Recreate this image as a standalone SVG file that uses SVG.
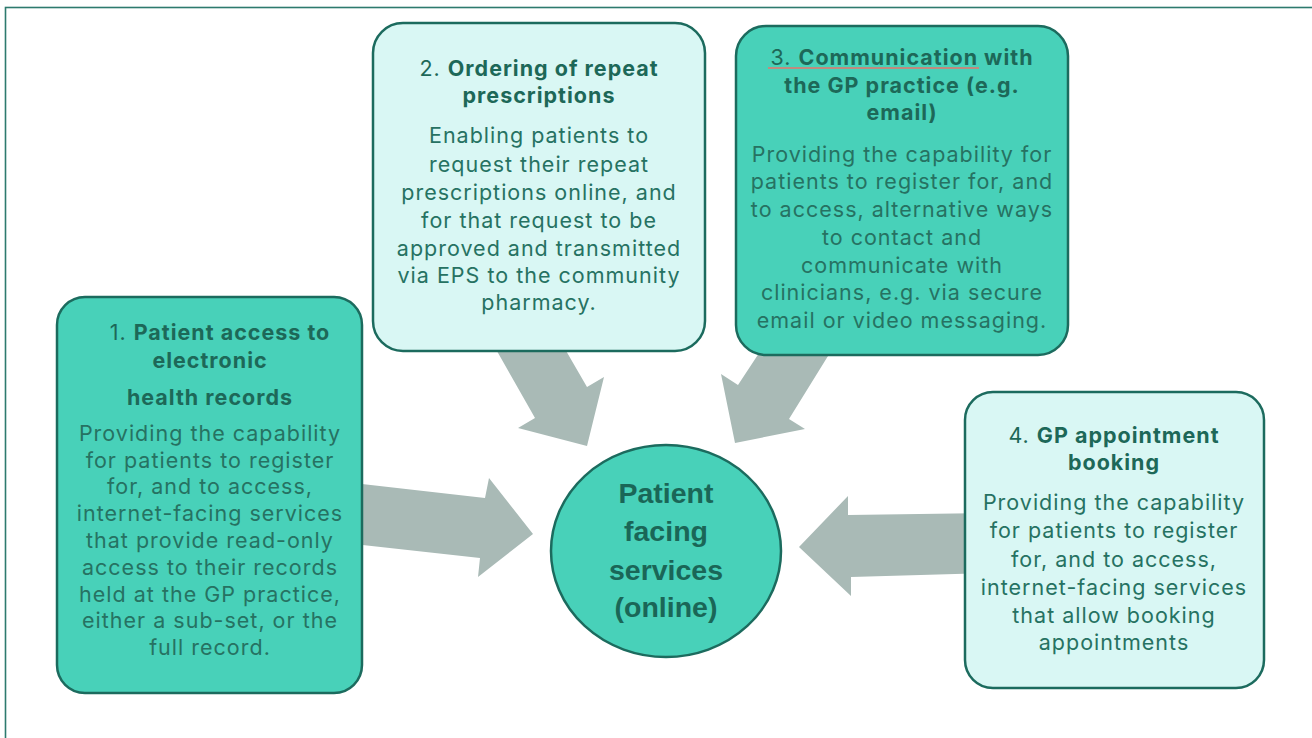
<svg xmlns="http://www.w3.org/2000/svg" width="1312" height="738" viewBox="0 0 1312 738">
<style>
.frame{fill:none;stroke:#2d7a6e;stroke-width:1.6}
.box{stroke:#1c6b5e;stroke-width:2.5}
.dark{fill:#48d1b9}
.light{fill:#d9f7f4}
.arrow{fill:#a9bab6}
.t{font-family:Inter,"Open Sans","Liberation Sans",sans-serif;text-anchor:middle}
.title{font-size:21.5px;fill:#1d6858;letter-spacing:1px}
.title .b{font-weight:bold}
.body{font-size:21.5px;fill:#267262;letter-spacing:1px}
.hub{font-family:"Liberation Sans",Arial,sans-serif;font-weight:bold;font-size:28.5px;fill:#1a6657;text-anchor:middle}
</style>
<rect width="1312" height="738" fill="#ffffff"/>
<rect class="frame" x="5.5" y="7.5" width="1330" height="760"/>
<g id="connectors">
<polygon class="arrow" points="340,481.5 485,498 489,478 533,534 478,577 480,558 340,542.6"/>
<polygon class="arrow" points="485,330 554,330 587,387 604,377 587,446 518,428 535,418"/>
<polygon class="arrow" points="771,335 841,335 789,419 805,429 735,443 721,374 738,385"/>
<polygon class="arrow" points="990,513 848,515 848,496 799,547 851,596 851,577 990,573"/>
</g>
<g id="node-hub">
<ellipse class="box dark" cx="666" cy="551" rx="115" ry="106"/>
<text class="hub" x="666" y="503">Patient</text>
<text class="hub" x="666" y="541">facing</text>
<text class="hub" x="666" y="580">services</text>
<text class="hub" x="666" y="617">(online)</text>
</g>
<g id="node-1">
<rect class="box dark" x="57" y="297" width="305" height="396" rx="28"/>
<text class="t title" x="220" y="340">1. <tspan class="b">Patient access to</tspan></text>
<text class="t title" x="210" y="368" font-weight="bold">electronic</text>
<text class="t title" x="210" y="405" font-weight="bold">health records</text>
<text class="t body" x="210" y="441">Providing the capability</text>
<text class="t body" x="210" y="468">for patients to register</text>
<text class="t body" x="210" y="494">for, and to access,</text>
<text class="t body" x="210" y="521">internet-facing services</text>
<text class="t body" x="210" y="548">that provide read-only</text>
<text class="t body" x="210" y="575">access to their records</text>
<text class="t body" x="210" y="602">held at the GP practice,</text>
<text class="t body" x="210" y="628">either a sub-set, or the</text>
<text class="t body" x="210" y="655">full record.</text>
</g>
<g id="node-2">
<rect class="box light" x="373" y="23" width="332" height="328" rx="30"/>
<text class="t title" x="539" y="76">2. <tspan class="b">Ordering of repeat</tspan></text>
<text class="t title" x="539" y="103" font-weight="bold">prescriptions</text>
<text class="t body" x="539" y="143">Enabling patients to</text>
<text class="t body" x="539" y="172">request their repeat</text>
<text class="t body" x="539" y="200">prescriptions online, and</text>
<text class="t body" x="539" y="228">for that request to be</text>
<text class="t body" x="539" y="256">approved and transmitted</text>
<text class="t body" x="539" y="283">via EPS to the community</text>
<text class="t body" x="539" y="310">pharmacy.</text>
</g>
<g id="node-3">
<rect class="box dark" x="736" y="26" width="332" height="329" rx="30"/>
<text class="t title" x="902" y="65">3. <tspan class="b">Communication with</tspan></text>
<line x1="768" y1="68" x2="979" y2="68" stroke="#e8736b" stroke-width="1.3"/>
<text class="t title" x="902" y="93" font-weight="bold">the GP practice (e.g.</text>
<text class="t title" x="902" y="120" font-weight="bold">email)</text>
<text class="t body" x="902" y="162">Providing the capability for</text>
<text class="t body" x="902" y="189">patients to register for, and</text>
<text class="t body" x="902" y="217">to access, alternative ways</text>
<text class="t body" x="902" y="245">to contact and</text>
<text class="t body" x="902" y="273">communicate with</text>
<text class="t body" x="902" y="300">clinicians, e.g. via secure</text>
<text class="t body" x="902" y="328">email or video messaging.</text>
</g>
<g id="node-4">
<rect class="box light" x="965" y="392" width="299" height="296" rx="28"/>
<text class="t title" x="1114" y="443">4. <tspan class="b">GP appointment</tspan></text>
<text class="t title" x="1114" y="470" font-weight="bold">booking</text>
<text class="t body" x="1114" y="510">Providing the capability</text>
<text class="t body" x="1114" y="538">for patients to register</text>
<text class="t body" x="1114" y="567">for, and to access,</text>
<text class="t body" x="1114" y="595">internet-facing services</text>
<text class="t body" x="1114" y="623">that allow booking</text>
<text class="t body" x="1114" y="650">appointments</text>
</g>
</svg>
